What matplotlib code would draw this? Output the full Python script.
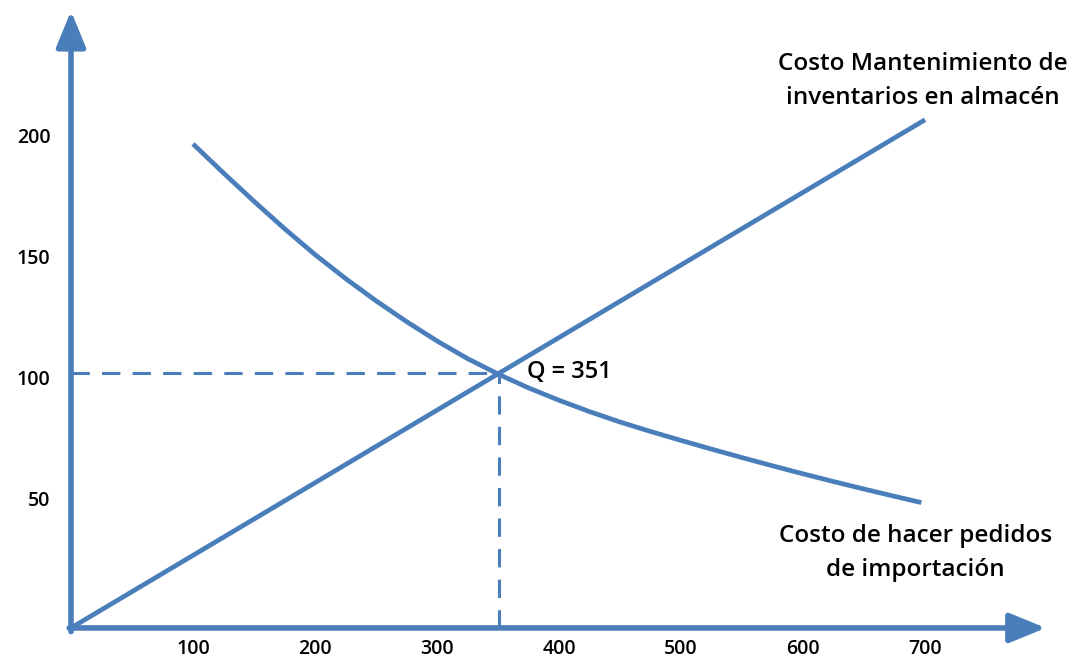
import matplotlib.pyplot as plt

# Costo de mantenimiento vs. costo de pedidos (lote economico)
q_hold = [0, 351, 700]
c_hold = [0, 105.3, 210]

q_order = [100, 125, 150, 175, 200, 225, 250, 275, 300, 325, 351, 375, 400,
           425, 450, 475, 500, 525, 550, 575, 600, 625, 650, 675, 697]
c_order = [200, 188, 176.3, 165, 154.3, 144.4, 135.2, 126.6, 118.6, 111.3,
           104.7, 99.2, 94.1, 89.4, 85.1, 81.2, 77.5, 73.9, 70.4, 67.0, 63.7,
           60.5, 57.4, 54.4, 51.8]

x_ticks = [100, 200, 300, 400, 500, 600, 700]
y_ticks = [50, 100, 150, 200]

q_opt = 351
c_opt = 105.3

azul = "#4A7EBB"
plt.rcParams['font.family'] = ['Open Sans', 'DejaVu Sans']

fig = plt.figure(figsize=(10.83, 6.64), dpi=100)
ax = fig.add_axes([0, 0, 1, 1])
ax.set_xlim(-58.2, 829.5)
ax.set_ylim(-14.9, 259.5)
ax.axis("off")

# ejes con flecha
flecha = dict(arrowstyle="-|>,head_length=1.1,head_width=0.45", lw=4,
              color=azul, mutation_scale=20, shrinkA=0, shrinkB=0)
ax.annotate("", xy=(799, 0), xytext=(-1.5, 0), arrowprops=flecha)
ax.annotate("", xy=(0, 255), xytext=(0, -1.5), arrowprops=flecha)

# curvas
ax.plot(q_hold, c_hold, color=azul, lw=3.4, solid_capstyle="butt")
ax.plot(q_order, c_order, color=azul, lw=3.4, solid_capstyle="butt",
        solid_joinstyle="round")

# lineas punteadas al optimo
ax.plot([0, q_opt], [c_opt, c_opt], color=azul, lw=2.2, dashes=(6, 4))
ax.plot([q_opt, q_opt], [0, c_opt], color=azul, lw=2.2, dashes=(6, 4))

# etiquetas de ejes
for x in x_ticks:
    ax.text(x, -8.5, str(x), ha="center", va="center", fontsize=14,
            fontweight="semibold")
for y in y_ticks:
    ax.text(-17, y + 2.5, str(y), ha="right", va="center", fontsize=14,
            fontweight="semibold")

ax.text(374, c_opt + 0.5, f"Q = {q_opt}", ha="left", va="center", fontsize=17,
        fontweight="semibold")
ax.text(698, 226, "Costo Mantenimiento de\ninventarios en almacén",
        ha="center", va="center", fontsize=17.5, fontweight="semibold",
        linespacing=1.55)
ax.text(692, 31, "Costo de hacer pedidos\nde importación",
        ha="center", va="center", fontsize=17.5, fontweight="semibold",
        linespacing=1.55)

fig.savefig("out.png", dpi=100)
